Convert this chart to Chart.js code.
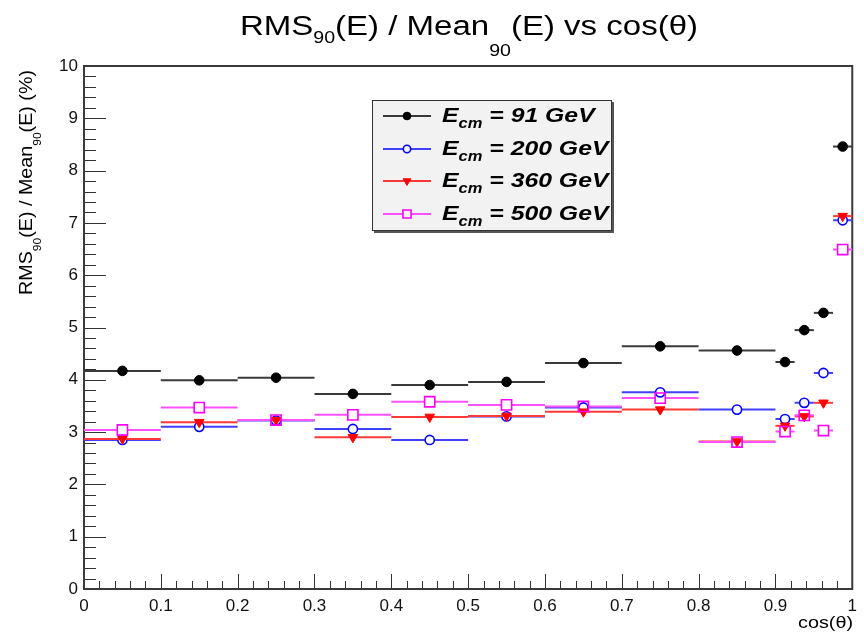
<!DOCTYPE html>
<html><head><meta charset="utf-8">
<script src="https://cdn.jsdelivr.net/npm/chart.js@4.4.1/dist/chart.umd.min.js"></script>
<style>html,body{margin:0;padding:0;background:#fff;}#wrap{width:864px;height:635px;}</style>
</head><body><div id="wrap"><canvas id="c" width="864" height="635"></canvas></div>
<script>
// ---- data ----
const binLow    = [0.0, 0.1, 0.2, 0.3, 0.4, 0.5, 0.6, 0.7, 0.8, 0.9, 0.925, 0.95, 0.975];
const binHigh   = [0.1, 0.2, 0.3, 0.4, 0.5, 0.6, 0.7, 0.8, 0.9, 0.925, 0.95, 0.975, 1.0];
const binCenter = [0.05, 0.15, 0.25, 0.35, 0.45, 0.55, 0.65, 0.75, 0.85, 0.9125, 0.9375, 0.9625, 0.9875];
const res91  = [4.17, 3.99, 4.04, 3.73, 3.90, 3.96, 4.32, 4.64, 4.56, 4.34, 4.95, 5.28, 8.46];
const res200 = [2.85, 3.10, 3.22, 3.06, 2.85, 3.30, 3.47, 3.76, 3.43, 3.25, 3.56, 4.13, 7.05];
const res360 = [2.87, 3.19, 3.23, 2.90, 3.29, 3.31, 3.39, 3.43, 2.82, 3.12, 3.30, 3.56, 7.13];
const res500 = [3.04, 3.47, 3.23, 3.33, 3.58, 3.52, 3.49, 3.65, 2.81, 3.01, 3.32, 3.03, 6.49];
const energies = ['91', '200', '360', '500'];
const xTickValues = [0, 0.1, 0.2, 0.3, 0.4, 0.5, 0.6, 0.7, 0.8, 0.9, 1];
const xTickLabels = ['0', '0.1', '0.2', '0.3', '0.4', '0.5', '0.6', '0.7', '0.8', '0.9', '1'];
const yTickLabels = ['0','1','2','3','4','5','6','7','8','9','10'];

const FONT = "'Liberation Sans', Arial, Helvetica, sans-serif";

function pts(vals){ return vals.map((v,i)=>({x:binCenter[i], y:v})); }

const styles = [
  {color:'#000000', line:'#3a3a3a', style:'circle',   radius:4.8, fill:'#000000', bw:1,   gap:0, rot:0},
  {color:'#0000ff', line:'#4040ff', style:'circle',   radius:4.6, fill:'rgba(0,0,0,0)', bw:1.6, gap:5, rot:0},
  {color:'#ff0000', line:'#ff3838', style:'triangle', radius:5.5, fill:'#ff0000', bw:1,   gap:0, rot:180},
  {color:'#ff00ff', line:'#ff50ff', style:'rect',     radius:7.2, fill:'rgba(0,0,0,0)', bw:1.6, gap:5, rot:0}
];
const seriesVals = [res91, res200, res360, res500];

const datasets = seriesVals.map((vals, k) => ({
  label: 'E_cm = ' + energies[k] + ' GeV',
  data: pts(vals),
  xLow: binLow, xHigh: binHigh,
  pointStyle: styles[k].style,
  pointRotation: styles[k].rot,
  pointRadius: styles[k].radius,
  pointBackgroundColor: styles[k].fill,
  pointBorderColor: styles[k].color,
  pointBorderWidth: styles[k].bw,
  showLine: false,
  order: 4 - k,
  errColor: styles[k].line,
  errGap: styles[k].gap
}));

// rich text helper: segments drawn sequentially with horizontal scaling
function drawRich(ctx, segs, x, y, targetWidth, align, fixedScale){
  ctx.save();
  let total = 0;
  const widths = segs.map(s => { ctx.font = s.font; const w = ctx.measureText(s.t).width; total += w; return w; });
  const sx = targetWidth ? targetWidth / total : (fixedScale || 1);
  let start = x;
  if (align === 'center') start = x - total*sx/2;
  if (align === 'right') start = x - total*sx;
  ctx.translate(start, y);
  ctx.scale(sx, 1);
  ctx.textBaseline = 'alphabetic';
  ctx.textAlign = 'left';
  let cx = 0;
  segs.forEach((s, i) => {
    ctx.font = s.font; ctx.fillStyle = s.color || '#000';
    ctx.fillText(s.t, cx, s.dy || 0);
    cx += widths[i];
  });
  ctx.restore();
}

const framePlugin = {
  id: 'frame',
  beforeDatasetsDraw(chart){
    const {ctx, chartArea:a, scales:{x, y}} = chart;
    ctx.save();
    ctx.strokeStyle = '#333';
    ctx.lineWidth = 1;
    for (let i = 0; i <= 50; i++){
      const v = i*0.2;
      const py = Math.round(y.getPixelForValue(v)) + 0.5;
      const len = (i % 5 === 0) ? 22 : 12;
      ctx.beginPath(); ctx.moveTo(a.left, py); ctx.lineTo(a.left + len, py); ctx.stroke();
    }
    for (let i = 0; i <= 50; i++){
      const v = i*0.02;
      const px = Math.round(x.getPixelForValue(v)) + 0.5;
      const len = (i % 5 === 0) ? 15 : 8;
      ctx.beginPath(); ctx.moveTo(px, a.bottom); ctx.lineTo(px, a.bottom - len); ctx.stroke();
    }
    ctx.lineWidth = 2;
    ctx.strokeStyle = '#3a3a3a';
    ctx.strokeRect(a.left, a.top, a.right - a.left, a.bottom - a.top);
    ctx.restore();
  }
};

const errPlugin = {
  id: 'err',
  beforeDatasetDraw(chart, args){
    const ds = chart.data.datasets[args.index];
    const {ctx, scales:{x, y}} = chart;
    ctx.save();
    ctx.strokeStyle = ds.errColor;
    ctx.lineWidth = 2;
    ds.data.forEach((p, i) => {
      const py = y.getPixelForValue(p.y);
      const xl = x.getPixelForValue(ds.xLow[i]);
      const xh = x.getPixelForValue(ds.xHigh[i]);
      const xc = x.getPixelForValue(p.x);
      const g = ds.errGap;
      ctx.beginPath();
      if (g > 0){
        ctx.moveTo(xl, py); ctx.lineTo(xc - g, py);
        ctx.moveTo(xc + g, py); ctx.lineTo(xh, py);
      } else {
        ctx.moveTo(xl, py); ctx.lineTo(xh, py);
      }
      ctx.stroke();
    });
    ctx.restore();
  }
};

const textPlugin = {
  id: 'texts',
  afterDraw(chart){
    const ctx = chart.ctx;
    // title
    drawRich(ctx, [
      {t:'RMS', font:'27px '+FONT},
      {t:'90', font:'16px '+FONT, dy:8},
      {t:'(E) / Mean', font:'27px '+FONT},
      {t:'90', font:'16px '+FONT, dy:21},
      {t:'(E) vs cos(\u03B8)', font:'27px '+FONT}
    ], 240, 35, 458, 'left');
    // y title (rotated)
    ctx.save();
    ctx.translate(32, 295);
    ctx.rotate(-Math.PI/2);
    drawRich(ctx, [
      {t:'RMS', font:'18px '+FONT},
      {t:'90', font:'11px '+FONT, dy:9},
      {t:'(E) / Mean', font:'18px '+FONT},
      {t:'90', font:'11px '+FONT, dy:9},
      {t:'(E) (%)', font:'18px '+FONT}
    ], 0, 0, 225, 'left');
    ctx.restore();
    // x title
    drawRich(ctx, [{t:'cos(\u03B8)', font:'17px '+FONT}], 853, 628, 55, 'right');

    // legend
    const lx = 372, ly = 100, lw = 240, lh = 131;
    ctx.save();
    ctx.fillStyle = '#555';
    ctx.fillRect(lx + 2, ly + 2, lw, lh);
    ctx.fillStyle = '#f2f2f2';
    ctx.fillRect(lx, ly, lw, lh);
    ctx.strokeStyle = '#333'; ctx.lineWidth = 1;
    ctx.strokeRect(lx + 0.5, ly + 0.5, lw - 1, lh - 1);
    const rows = [116, 149, 181, 214];
    chart.data.datasets.forEach((ds, k) => {
      const ry = rows[k];
      ctx.strokeStyle = ds.errColor; ctx.lineWidth = 2;
      ctx.beginPath(); ctx.moveTo(383, ry); ctx.lineTo(431, ry); ctx.stroke();
      ctx.fillStyle = ds.pointBackgroundColor;
      ctx.strokeStyle = ds.pointBorderColor;
      ctx.lineWidth = ds.pointBorderWidth;
      if (ds.errGap > 0) {
        ctx.fillStyle = '#f2f2f2';
      }
      Chart.helpers.drawPoint(ctx, {pointStyle: ds.pointStyle, rotation: ds.pointRotation, radius: ds.pointRadius*0.8, borderWidth: ds.pointBorderWidth}, 407, ry);
      drawRich(ctx, [
        {t:'E', font:'italic bold 21px '+FONT},
        {t:'cm', font:'italic bold 14px '+FONT, dy:6},
        {t:' = ' + energies[k] + ' GeV', font:'italic bold 21px '+FONT}
      ], 442, ry + 6, null, 'left', 1.18);
    });
    ctx.restore();
  }
};

new Chart(document.getElementById('c').getContext('2d'), {
  type: 'scatter',
  data: { datasets },
  options: {
    responsive: false, animation: false, devicePixelRatio: 1,
    layout: { padding: { left: 0, top: 66, right: 10, bottom: 0 } },
    plugins: { legend: { display: false }, title: { display: false }, tooltip: { enabled: false } },
    scales: {
      x: {
        type: 'linear', min: 0, max: 1,
        grid: { display: false, drawTicks: false }, border: { display: false },
        afterBuildTicks(s){ s.ticks = xTickValues.map(v => ({value: v})); },
        ticks: { autoSkip: false, maxRotation: 0, padding: 7, color: '#111',
                 font: { family: FONT, size: 17 },
                 callback: (v, i) => xTickLabels[i] },
        afterFit(s){ s.height = 46; }
      },
      y: {
        type: 'linear', min: 0, max: 10,
        grid: { display: false, drawTicks: false }, border: { display: false },
        afterBuildTicks(s){ s.ticks = yTickLabels.map(t => ({value: Number(t)})); },
        ticks: { autoSkip: false, padding: 6, color: '#111',
                 font: { family: FONT, size: 17 },
                 callback: (v, i) => yTickLabels[i] },
        afterFit(s){ s.width = 84; }
      }
    }
  },
  plugins: [framePlugin, errPlugin, textPlugin]
});
</script>
</body></html>
